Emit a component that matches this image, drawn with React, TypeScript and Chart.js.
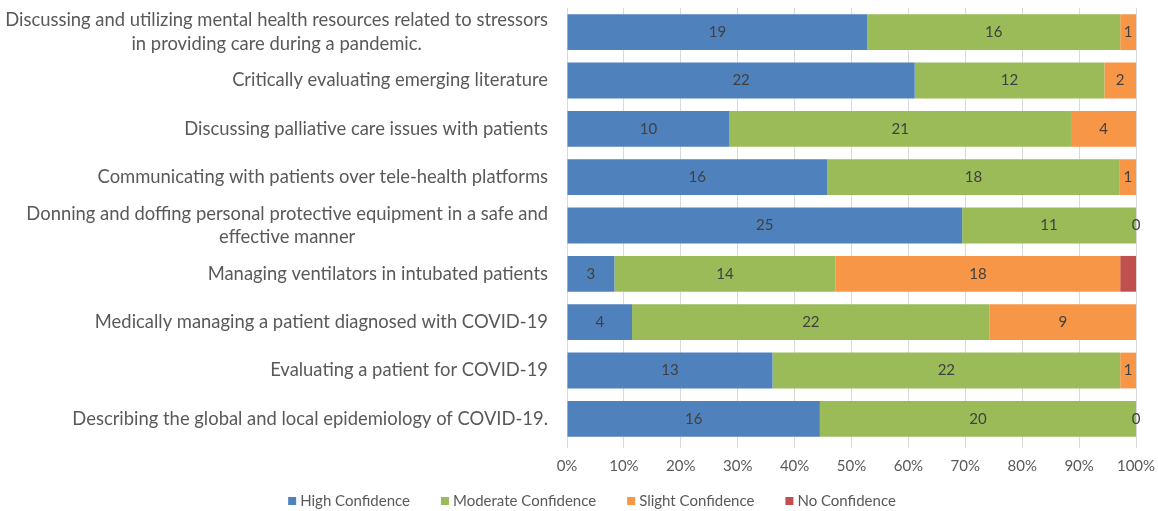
import React, { useEffect, useRef } from "react";
import { Chart, registerables } from "chart.js";

Chart.register(...registerables);

const categories: string[][] = [
  ["Discussing and utilizing mental health resources related to stressors", "in providing care during a pandemic."],
  ["Critically evaluating emerging literature"],
  ["Discussing palliative care issues with patients"],
  ["Communicating with patients over tele-health platforms"],
  ["Donning and doffing personal protective equipment in a safe and", "effective manner"],
  ["Managing ventilators in intubated patients"],
  ["Medically managing a patient diagnosed with COVID-19"],
  ["Evaluating a patient for COVID-19"],
  ["Describing the global and local epidemiology of COVID-19."],
];

const highConfidence = [19, 22, 10, 16, 25, 3, 4, 13, 16];
const moderateConfidence = [16, 12, 21, 18, 11, 14, 22, 22, 20];
const slightConfidence = [1, 2, 4, 1, 0, 18, 9, 1, 0];
const noConfidence = [0, 0, 0, 0, 0, 1, 0, 0, 0];

const seriesNames = ["High Confidence", "Moderate Confidence", "Slight Confidence", "No Confidence"];
const seriesColors = ["#4F81BD", "#9BBB59", "#F79646", "#C0504D"];
const labelledSeries = [true, true, true, false];

const xTickLabels = ["0%", "10%", "20%", "30%", "40%", "50%", "60%", "70%", "80%", "90%", "100%"];

const FONT = "Lato";
const TEXT_COLOR = "#595959";

export default function App() {
  const ref = useRef<HTMLCanvasElement | null>(null);

  useEffect(() => {
    if (!ref.current) return;
    const series = [highConfidence, moderateConfidence, slightConfidence, noConfidence];
    const totals = highConfidence.map((_, i) => series.reduce((s, arr) => s + arr[i], 0));
    const datasets = series.map((arr, k) => ({
      label: seriesNames[k],
      data: arr.map((v, i) => (v / totals[i]) * 100),
      backgroundColor: seriesColors[k],
      borderWidth: 0,
      categoryPercentage: 1,
      barPercentage: 0.74,
    }));

    const dataLabelPlugin = {
      id: "dataLabels",
      afterDatasetsDraw(chart: any) {
        const ctx = chart.ctx;
        ctx.save();
        ctx.font = `15px ${FONT}`;
        ctx.fillStyle = "#404040";
        ctx.textAlign = "center";
        ctx.textBaseline = "middle";
        series.forEach((arr, k) => {
          if (!labelledSeries[k]) return;
          const meta = chart.getDatasetMeta(k);
          meta.data.forEach((el: any, i: number) => {
            const cx = (el.x + el.base) / 2;
            ctx.fillText(String(arr[i]), cx, el.y);
          });
        });
        ctx.restore();
      },
    };

    const yLabelPlugin = {
      id: "yLabels",
      afterDraw(chart: any) {
        const ctx = chart.ctx;
        const yScale = chart.scales.y;
        const right = chart.chartArea.left - 19;
        const lh = 23.5;
        ctx.save();
        ctx.font = `18.4px ${FONT}`;
        ctx.fillStyle = TEXT_COLOR;
        ctx.textAlign = "center";
        ctx.textBaseline = "middle";
        categories.forEach((lines, i) => {
          const py = yScale.getPixelForValue(i);
          const w = Math.max(...lines.map((l) => ctx.measureText(l).width));
          const cx = right - w / 2;
          const y0 = py - ((lines.length - 1) * lh) / 2;
          lines.forEach((l, j) => ctx.fillText(l, cx, y0 + j * lh));
        });
        ctx.restore();
      },
    };

    const legendPlugin = {
      id: "customLegend",
      afterDraw(chart: any) {
        const ctx = chart.ctx;
        ctx.save();
        ctx.font = `15px ${FONT}`;
        ctx.textBaseline = "middle";
        ctx.textAlign = "left";
        const box = 8;
        const gap = 4;
        const itemGap = 31;
        const widths = seriesNames.map((n) => box + gap + ctx.measureText(n).width);
        const total = widths.reduce((a, b) => a + b, 0) + itemGap * (widths.length - 1);
        let x = 592 - total / 2;
        const y = 501;
        seriesNames.forEach((n, k) => {
          ctx.fillStyle = seriesColors[k];
          ctx.fillRect(x, y - box / 2, box, box);
          ctx.fillStyle = TEXT_COLOR;
          ctx.fillText(n, x + box + gap, y);
          x += widths[k] + itemGap;
        });
        ctx.restore();
      },
    };

    const chart = new Chart(ref.current, {
      type: "bar",
      data: { labels: categories.map((c) => c.join(" ")), datasets },
      options: {
        indexAxis: "y",
        animation: false,
        responsive: false,
        layout: { padding: { top: 8, right: 22, bottom: 30, left: 0 } },
        plugins: {
          legend: { display: false },
          tooltip: { enabled: false },
        },
        scales: {
          x: {
            stacked: true,
            min: 0,
            max: 100,
            border: { display: false },
            grid: { color: "#D9D9D9", lineWidth: 1, drawTicks: true, tickLength: 5, tickColor: "#D9D9D9" },
            ticks: {
              stepSize: 10,
              padding: 9,
              color: TEXT_COLOR,
              font: { family: FONT, size: 15 },
              callback: (_v: any, i: number) => xTickLabels[i],
            },
            afterFit: (scale: any) => {
              scale.height = 38;
              scale.paddingLeft = 0;
              scale.paddingRight = 0;
            },
          },
          y: {
            stacked: true,
            border: { display: false },
            grid: { display: false, drawTicks: false },
            ticks: { display: false },
            afterFit: (scale: any) => {
              scale.width = 567;
              scale.paddingTop = 0;
              scale.paddingBottom = 0;
            },
          },
        },
      },
      plugins: [dataLabelPlugin, yLabelPlugin, legendPlugin],
    });
    return () => chart.destroy();
  }, []);

  return (
    <div style={{ position: "absolute", left: 0, top: 0, width: 1158, height: 511, background: "#fff" }}>
      <canvas ref={ref} width={1158} height={511} />
    </div>
  );
}
